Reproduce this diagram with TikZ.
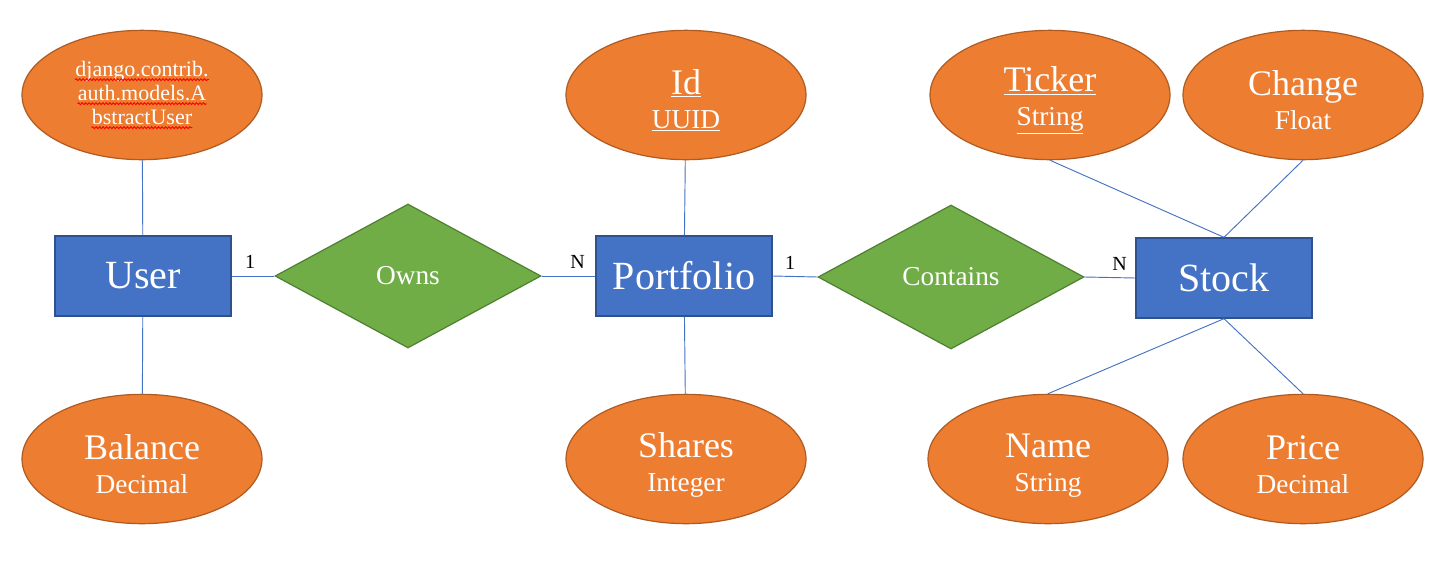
\documentclass[tikz,border=0pt]{standalone}
\usepackage{fontspec}
\setmainfont{Liberation Serif}
\usetikzlibrary{shapes.geometric,decorations.pathmorphing}

\definecolor{boxblue}{HTML}{4472C4}
\definecolor{boxline}{HTML}{2F528F}
\definecolor{attrfill}{HTML}{ED7D31}
\definecolor{attrline}{HTML}{AE5A21}
\definecolor{relfill}{HTML}{70AD47}
\definecolor{relline}{HTML}{507E32}

% red spell-check wave under a word
\newcommand{\redwave}[1]{\tikz[baseline=(w.base), x=1pt, y=1pt]{%
  \node[inner sep=0pt, minimum size=0pt, shape=rectangle, draw=none, fill=none] (w) {#1};
  \draw[red, line width=0.7pt, decorate, decoration={snake, amplitude=0.7pt, segment length=2.6pt}]
    ([yshift=-2.6pt]w.base west) -- ([yshift=-2.6pt]w.base east);}}

\newcommand{\attrname}[1]{{\fontsize{27}{30}\selectfont\rule{0pt}{27pt}#1}}
\newcommand{\uln}[1]{\underline{#1}}

\tikzset{
  entity/.style={draw=boxline, fill=boxblue, line width=1pt, text=white,
    minimum width=132pt, minimum height=60pt, font=\fontsize{30}{34}\selectfont},
  attr/.style={ellipse, draw=attrline, fill=attrfill, line width=0.9pt, text=white,
    minimum width=180pt, minimum height=97pt, inner sep=0pt, align=center,
    font=\fontsize{20.5}{25.5}\selectfont},
  rel/.style={diamond, draw=relline, fill=relfill, line width=0.9pt, text=white,
    minimum width=199.5pt, minimum height=108pt, inner sep=0pt,
    font=\fontsize{20.5}{24}\selectfont},
  link/.style={draw=boxblue, line width=0.7pt},
  card/.style={font=\fontsize{15}{17}\selectfont, inner sep=5pt}
}

\begin{document}
\begin{tikzpicture}[x=0.75pt, y=-0.75pt]

    % Frame
    \useasboundingbox (0,0) rectangle (1432,561);

    % Entities
    \node[entity] (user)      at (143,276) {User};
    \node[entity] (portfolio) at (684,276) {Portfolio};
    \node[entity] (stock)     at (1224,278) {Stock};

    % Relations
    \node[rel] (owns)     at (408,276) {Owns};
    \node[rel] (contains) at (951,277) {Contains};

    % Attributes
    \node[attr, font=\fontsize{16.5}{18}\selectfont] (abstract) at (142,95)
        {\redwave{django.contrib.}\\\redwave{auth.models.A}\\\redwave{bstractUser}};
    \node[attr] (balance) at (142,459) {\attrname{Balance}\\Decimal};
    \node[attr] (id)      at (686,95)  {\attrname{\uln{Id}}\\\uln{UUID}};
    \node[attr] (shares)  at (686,459) {\attrname{Shares}\\Integer};
    \node[attr] (ticker)  at (1050,95) {\attrname{\uln{Ticker}}\\\uln{String}};
    \node[attr] (change)  at (1303,95) {\attrname{Change}\\Float};
    \node[attr] (name)    at (1048,459) {\attrname{Name}\\String};
    \node[attr] (price)   at (1303,459) {\attrname{Price}\\Decimal};

    % Attribute links
    \draw[link] (abstract) -- (user);
    \draw[link] (balance) -- (user);
    \draw[link] (id) -- (portfolio);
    \draw[link] (shares) -- (portfolio);
    \draw[link] (ticker.south) -- (stock.north);
    \draw[link] (change.south) -- (stock.north);
    \draw[link] (name.north) -- (stock.south);
    \draw[link] (price.north) -- (stock.south);

    % Relation links
    \draw[link] (user.east) -- (owns.west) node[card, pos=0.43, above] {1};
    \draw[link] (owns.east) -- (portfolio.west) node[card, pos=0.67, above] {N};
    \draw[link] (portfolio.east) -- (contains.west) node[card, pos=0.39, above] {1};
    \draw[link] (contains.east) -- (stock.west) node[card, pos=0.69, above] {N};

\end{tikzpicture}
\end{document}
